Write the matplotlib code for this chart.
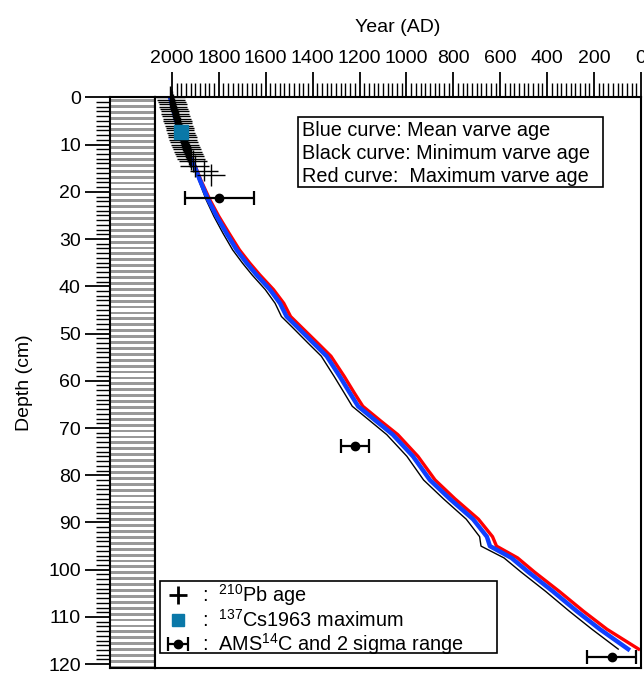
import numpy as np
import matplotlib
matplotlib.use("Agg")
import matplotlib.pyplot as plt
from matplotlib.lines import Line2D
from matplotlib.patches import Rectangle

plt.rcParams['font.family'] = ['Liberation Sans', 'DejaVu Sans']
plt.rcParams['mathtext.fontset'] = 'custom'
plt.rcParams['mathtext.rm'] = 'Liberation Sans'
plt.rcParams['mathtext.it'] = 'Liberation Sans'

# varve age-depth curves (depth in cm, age in year AD)
curve_depth = [0, 5, 10, 15, 17.5, 21.7, 25.2, 28.8, 32.3, 35.1, 37.6, 40.7, 43.6,
               46.4, 48.5, 52.0, 54.8, 59.1, 62.6, 65.4, 68.5, 71.4, 76, 81, 85,
               89.3, 93, 95, 97.5, 100.5, 104.6, 108.8, 112.6, 116.8]
mean_age = [2008, 1982, 1948, 1900, 1881, 1845, 1809, 1767, 1724, 1681, 1639, 1582,
            1539, 1511, 1468, 1397, 1340, 1284, 1241, 1206, 1130, 1058, 972, 900,
            815, 716, 657, 644, 552, 480, 375, 273, 175, 55]
min_age = [2008, 1983, 1950, 1903, 1886, 1854, 1821, 1782, 1741, 1699, 1658, 1602,
           1560, 1533, 1490, 1420, 1363, 1308, 1265, 1231, 1155, 1084, 998, 927,
           842, 745, 688, 682, 584, 511, 406, 305, 209, 97]
max_age = [2008, 1981, 1946, 1897, 1877, 1838, 1800, 1756, 1712, 1668, 1625, 1567,
           1523, 1494, 1451, 1379, 1322, 1265, 1222, 1186, 1110, 1037, 951, 878,
           793, 693, 633, 616, 526, 454, 348, 245, 145, 10]

# 210Pb ages
pb_depth = [0.0, 0.5, 1.0, 1.5, 2.0, 2.5, 3.0, 3.5, 4.0, 4.5, 5.0, 5.5, 6.0, 6.5,
            7.0, 7.5, 8.0, 8.5, 9.0, 9.5, 10.0, 10.5, 11.0, 11.5, 12.0, 12.5, 13.0,
            13.5, 14.5, 15.5, 16.5]
pb_age = [2006, 2003, 2000, 1997, 1994, 1991, 1988, 1985, 1982, 1979, 1976, 1973,
          1970, 1967, 1964, 1961, 1958, 1955, 1952, 1948, 1944, 1940, 1936, 1932,
          1927, 1922, 1917, 1911, 1902, 1864, 1834]
pb_age_err = [60] * 28 + [62, 60, 60]
pb_depth_err = 2.3

# 137Cs 1963 maximum
cs_depth = [7.3]
cs_age = [1963]

# AMS 14C ages with 2 sigma range
c14_depth = [21.3, 73.9, 118.5]
c14_age = [1800, 1220, 124]
c14_young = [1949, 1279, 226]
c14_old = [1655, 1160, 17]

fig = plt.figure(figsize=(6.44, 6.73), dpi=100)
ax_s = fig.add_axes([0.1708, 0.00743, 0.0699, 0.848])
ax = fig.add_axes([0.2407, 0.00743, 0.7546, 0.848])

# lithology strip
ax_s.set_xlim(0, 1)
ax_s.set_ylim(120.8, 0)
for y0 in np.arange(0.35, 121, 1.25):
    ax_s.axhspan(y0, y0 + 0.6, color='#999999', lw=0)
ax_s.set_xticks([])
ax_s.set_yticks(range(0, 121, 10))
ax_s.set_yticks(range(0, 121, 1), minor=True)
ax_s.tick_params(axis='y', which='major', length=18, width=1.3, labelsize=14, pad=3)
ax_s.tick_params(axis='y', which='minor', length=10, width=1.0)
for sp in ax_s.spines.values():
    sp.set_linewidth(1.5)
ax_s.set_ylabel('Depth (cm)', fontsize=14, labelpad=11)

# main panel
ax.set_xlim(2072, 0)
ax.set_ylim(120.8, 0)
ax.xaxis.tick_top()
ax.xaxis.set_label_position('top')
ax.set_xticks(range(0, 2001, 200))
ax.set_xticks(range(0, 2001, 20), minor=True)
ax.set_yticks([])
ax.tick_params(axis='x', which='major', length=18, width=1.3, labelsize=14, pad=3.5)
ax.tick_params(axis='x', which='minor', length=10, width=1.0)
ax.set_xlabel('Year (AD)', fontsize=14, labelpad=13)
for sp in ax.spines.values():
    sp.set_linewidth(1.5)

ax.plot(min_age, curve_depth, color='black', lw=1.0, zorder=2)
ax.plot(max_age, curve_depth, color='#ff0000', lw=2.4, zorder=2)
ax.plot(mean_age, curve_depth, color='#1040ff', lw=3.2, zorder=2)

pb = ax.errorbar(pb_age, pb_depth, xerr=pb_age_err, yerr=pb_depth_err, fmt='none',
                 ecolor='black', elinewidth=1.0, zorder=3)
for coll in pb.lines[2]:
    coll.set_clip_on(False)

ax.plot(cs_age, cs_depth, ls='none', marker='s', ms=10, color='#0a78a8', zorder=4)

c14_xerr = [np.subtract(c14_young, c14_age), np.subtract(c14_age, c14_old)]
c14 = ax.errorbar(c14_age, c14_depth, xerr=c14_xerr, fmt='o', color='black', ms=6,
                  elinewidth=1.6, capsize=5, capthick=1.6, zorder=5)

# curve key box
ax.add_patch(Rectangle((0.2942, 0.8428), 0.6276, 0.1227, transform=ax.transAxes,
                       fc='white', ec='black', lw=1.2, zorder=6))
ax.text(0.3025, 0.958, 'Blue curve: Mean varve age\nBlack curve: Minimum varve age\n'
        'Red curve:  Maximum varve age', transform=ax.transAxes, ha='left', va='top',
        fontsize=14.3, linespacing=1.25, zorder=7)

# symbol key box
ax.add_patch(Rectangle((0.0103, 0.0263), 0.6934, 0.1261, transform=ax.transAxes,
                       fc='white', ec='black', lw=1.2, zorder=6))
h_pb = Line2D([], [], ls='none', marker='+', ms=13, mew=2, color='black')
h_cs = Line2D([], [], ls='none', marker='s', ms=8, color='#0a78a8')
leg = ax.legend([h_pb, h_cs, c14],
                [':  $^{210}$Pb age', ':  $^{137}$Cs1963 maximum',
                 ':  AMS$^{14}$C and 2 sigma range'],
                loc='upper left', bbox_to_anchor=(0.006, 0.158), borderaxespad=0,
                fontsize=14.3, frameon=False, handlelength=1.6, handletextpad=0.4,
                labelspacing=0.05, borderpad=0.2)
leg.set_zorder(8)

fig.savefig('out.png', dpi=100)
